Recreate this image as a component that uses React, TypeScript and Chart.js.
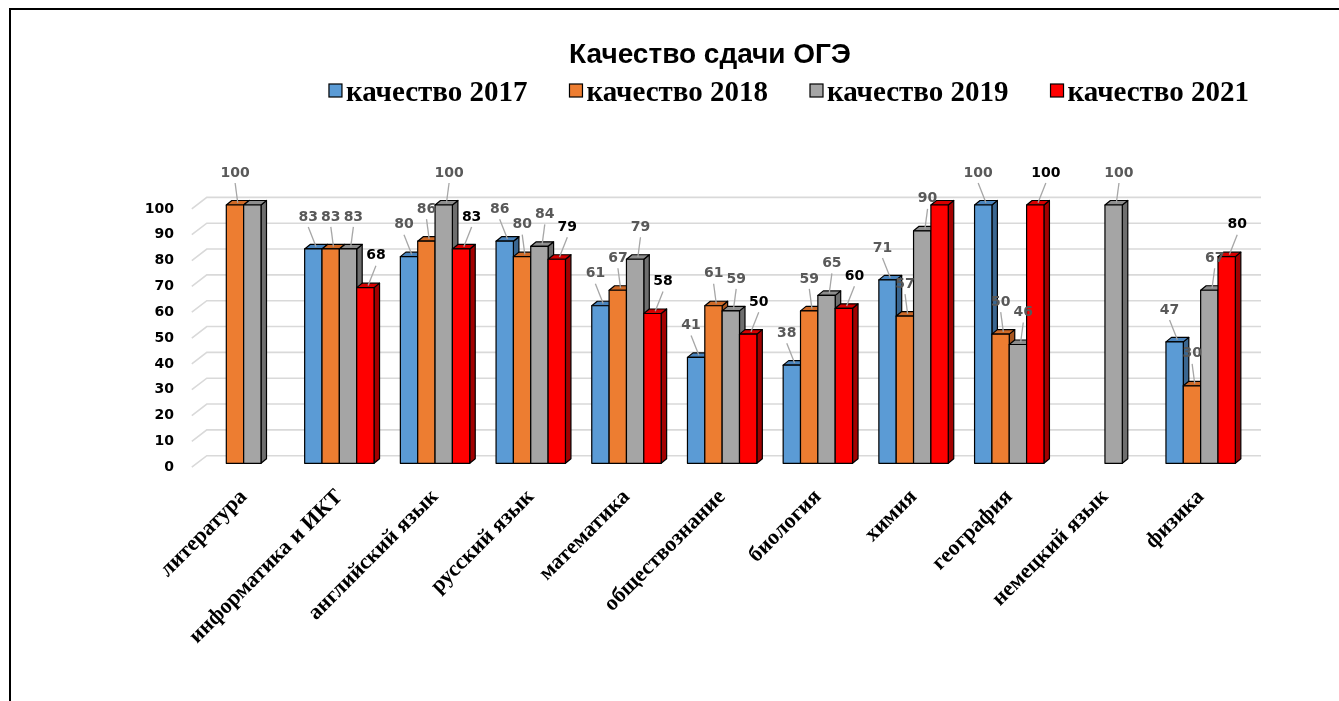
import React, { useEffect, useRef } from 'react';
import { Chart, registerables } from 'chart.js';

Chart.register(...registerables);

// ---------- data ----------
const chartTitle = 'Качество сдачи ОГЭ';
const categories = [
  'литература',
  'информатика и ИКТ',
  'английский язык',
  'русский язык',
  'математика',
  'обществознание',
  'биология',
  'химия',
  'география',
  'немецкий язык',
  'физика',
];
const seriesNames = ['качество 2017', 'качество 2018', 'качество 2019', 'качество 2021'];
const quality2017 = [null, 83, 80, 86, 61, 41, 38, 71, 100, null, 47];
const quality2018 = [100, 83, 86, 80, 67, 61, 59, 57, 50, null, 30];
const quality2019 = [100, 83, 100, 84, 79, 59, 65, 90, 46, 100, 67];
const quality2021 = [null, 68, 83, 79, 58, 50, 60, 100, 100, null, 80];
const yMin = 0;
const yMax = 100;
const yStep = 10;

// ---------- styles ----------
const faceColors = [
  { front: '#5B9BD5', top: '#4a84bd', side: '#3a6690' },
  { front: '#ED7D31', top: '#cf6a27', side: '#a9561f' },
  { front: '#A5A5A5', top: '#8d8d8d', side: '#6e6e6e' },
  { front: '#FF0000', top: '#d60000', side: '#a30000' },
];
const labelColors = ['#595959', '#595959', '#595959', '#000000'];
const DX = 5.5;
const DY = 4.5;

const threeDPlugin = {
  id: 'threeD',
  beforeDatasetsDraw(chart: any) {
    const { ctx, chartArea, scales } = chart;
    const y = scales.y;
    ctx.save();
    // perspective gridlines
    ctx.strokeStyle = '#d9d9d9';
    ctx.lineWidth = 1.6;
    y.ticks.forEach((t: any) => {
      const py = y.getPixelForValue(t.value);
      ctx.beginPath();
      ctx.moveTo(chartArea.left - 4, py + 3.9);
      ctx.lineTo(chartArea.left + 11, py - 7.6);
      ctx.lineTo(chartArea.right + 12.5, py - 7.6);
      ctx.stroke();
    });
    // bars drawn left-to-right so the next bar covers previous side face
    ctx.lineWidth = 1.2;
    ctx.strokeStyle = '#000';
    ctx.lineJoin = 'round';
    chart.data.datasets.forEach((ds: any, di: number) => {
      const meta = chart.getDatasetMeta(di);
      const f = faceColors[di];
      meta.data.forEach((el: any, i: number) => {
        if (ds.data[i] == null) return;
        const { x, y: top, base, width } = el.getProps(['x', 'y', 'base', 'width'], true);
        const l = x - width / 2;
        const r = x + width / 2;
        // side
        ctx.beginPath();
        ctx.moveTo(r, top);
        ctx.lineTo(r + DX, top - DY);
        ctx.lineTo(r + DX, base - DY);
        ctx.lineTo(r, base);
        ctx.closePath();
        ctx.fillStyle = f.side;
        ctx.fill();
        ctx.stroke();
        // top
        ctx.beginPath();
        ctx.moveTo(l, top);
        ctx.lineTo(l + DX, top - DY);
        ctx.lineTo(r + DX, top - DY);
        ctx.lineTo(r, top);
        ctx.closePath();
        ctx.fillStyle = f.top;
        ctx.fill();
        ctx.stroke();
        // front
        ctx.beginPath();
        ctx.rect(l, top, width, base - top);
        ctx.fillStyle = f.front;
        ctx.fill();
        ctx.stroke();
      });
    });
    ctx.restore();
    return false;
  },
  afterDraw(chart: any) {
    const { ctx, scales } = chart;
    const xs = scales.x;
    ctx.save();
    // data labels with leader lines; a label that would collide with an earlier one is hidden
    ctx.font = 'bold 14px "DejaVu Sans"';
    ctx.textAlign = 'center';
    ctx.textBaseline = 'middle';
    const placed: { l: number; r: number; t: number; b: number }[] = [];
    chart.data.datasets.forEach((ds: any, di: number) => {
      const meta = chart.getDatasetMeta(di);
      meta.data.forEach((el: any, i: number) => {
        const v = ds.data[i];
        if (v == null) return;
        const txt = String(v);
        const gc = xs.getPixelForValue(i) + DX / 2;
        const bx = el.x + DX / 2;
        const lx = gc + (bx - gc) * 1.3;
        const ty = el.y - DY / 2;
        const ly = el.y - 32;
        const w = ctx.measureText(txt).width;
        const rect = { l: lx - w / 2, r: lx + w / 2, t: ly - 7, b: ly + 7 };
        if (placed.some((p) => rect.l < p.r && rect.r > p.l && rect.t < p.b && rect.b > p.t)) return;
        placed.push(rect);
        ctx.strokeStyle = '#a6a6a6';
        ctx.lineWidth = 1.3;
        ctx.beginPath();
        ctx.moveTo(bx, ty);
        ctx.lineTo(lx, ly + 10);
        ctx.stroke();
        ctx.fillStyle = labelColors[di];
        ctx.fillText(txt, lx, ly);
      });
    });
    // title
    ctx.fillStyle = '#000';
    ctx.font = 'bold 28px "Liberation Sans"';
    ctx.textAlign = 'center';
    ctx.textBaseline = 'alphabetic';
    ctx.fillText(chartTitle, 710, 63);
    // legend
    ctx.font = 'bold 29px "Liberation Serif"';
    ctx.textAlign = 'left';
    const box = 13;
    const gapText = 4;
    const gapItem = 42;
    const widths = seriesNames.map((s) => box + gapText + ctx.measureText(s).width);
    const total = widths.reduce((a, b) => a + b, 0) + gapItem * (widths.length - 1);
    let x = 789 - total / 2;
    seriesNames.forEach((s, i) => {
      ctx.fillStyle = faceColors[i].front;
      ctx.fillRect(x, 84, box, box);
      ctx.strokeStyle = '#000';
      ctx.lineWidth = 1.2;
      ctx.strokeRect(x, 84, box, box);
      ctx.fillStyle = '#000';
      ctx.fillText(s, x + box + gapText, 101);
      x += widths[i] + gapItem;
    });
    ctx.restore();
  },
};

export default function App() {
  const ref = useRef<HTMLCanvasElement | null>(null);
  useEffect(() => {
    if (!ref.current) return;
    const series = [quality2017, quality2018, quality2019, quality2021];
    const chart = new Chart(ref.current, {
      type: 'bar',
      data: {
        labels: categories,
        datasets: series.map((d, i) => ({
          label: seriesNames[i],
          data: d,
          backgroundColor: faceColors[i].front,
          borderColor: '#000',
          borderWidth: 1,
        })),
      },
      options: {
        responsive: false,
        animation: false,
        events: [],
        layout: { padding: { left: 100, right: 90.5, top: 205, bottom: 37.7 } },
        datasets: { bar: { categoryPercentage: 0.725, barPercentage: 1 } },
        plugins: {
          legend: { display: false },
          title: { display: false },
          tooltip: { enabled: false },
        },
        scales: {
          x: {
            grid: { display: false },
            border: { display: false },
            ticks: {
              autoSkip: false,
              minRotation: 45,
              maxRotation: 45,
              color: '#000',
              padding: 13,
              font: { family: '"Liberation Serif"', weight: 'bold', size: 22 },
            },
            afterFit: (s: any) => {
              s.height = 200;
            },
          },
          y: {
            min: yMin,
            max: yMax,
            grid: { display: false },
            border: { display: false },
            ticks: {
              stepSize: yStep,
              color: '#000',
              padding: 13.8,
              labelOffset: 4,
              font: { family: '"DejaVu Sans"', weight: 'bold', size: 14 },
            },
            afterFit: (s: any) => {
              s.width = 95.8;
            },
          },
        },
      },
      plugins: [threeDPlugin],
    } as any);
    return () => chart.destroy();
  }, []);

  return (
    <>
      <div
        style={{
          position: 'fixed',
          left: 9,
          top: 8,
          width: 1330,
          height: 693,
          borderTop: '2px solid #000',
          borderLeft: '2px solid #000',
          boxSizing: 'border-box',
        }}
      />
      <canvas
        ref={ref}
        width={1339}
        height={701}
        style={{ position: 'fixed', left: 0, top: 0, width: 1339, height: 701 }}
      />
    </>
  );
}
